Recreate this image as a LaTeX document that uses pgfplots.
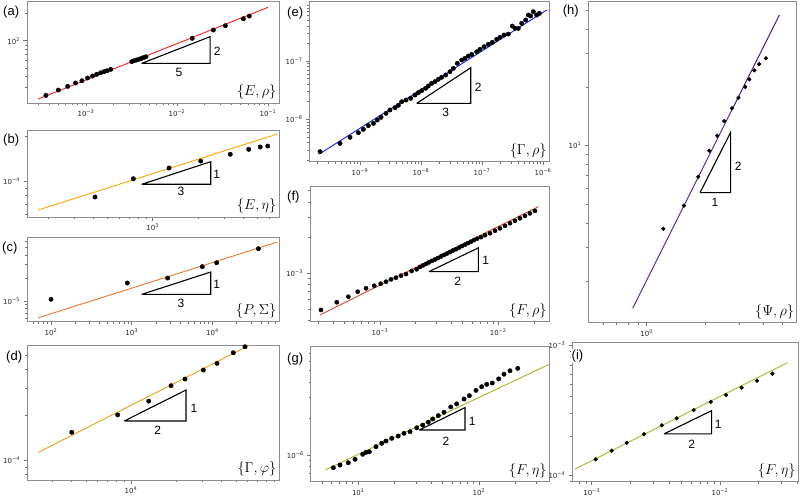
\documentclass[border=0pt]{standalone}
\usepackage[no-math]{fontspec}
\setmainfont{Liberation Sans}
\newfontfamily\dv{DejaVu Sans}
\usepackage{pgfplots}
\pgfplotsset{compat=1.18}
\newcommand{\tl}[1]{10\textsuperscript{#1}}
\definecolor{cA}{HTML}{FF1A1A}
\definecolor{cB}{HTML}{FFA500}
\definecolor{cC}{HTML}{EE7530}
\definecolor{cD}{HTML}{E6A118}
\definecolor{cE}{HTML}{1020E0}
\definecolor{cF}{HTML}{D9472B}
\definecolor{cG}{HTML}{B0B028}
\definecolor{cH}{HTML}{4F1A8F}
\pgfplotsset{
  mypanel/.style={scale only axis, anchor=south west,
    axis line style={draw=black!45, line width=0.8pt},
    tick style={black!55, line width=0.6pt},
    tick align=outside, major tick length=3.5pt, minor tick length=2pt,
    xtick pos=bottom, ytick pos=left,
    tick label style={font=\dv\fontsize{7}{8}\selectfont, text=black!85}},
  mypts/.style={only marks, mark=*, mark size=2.2pt, black},
  myfit/.style={no marks, line width=0.9pt},
  mytri/.style={no marks, black, line width=1.1pt},
}
\tikzset{mylab/.style={anchor=south east, inner sep=0pt, xshift=-2.5pt, yshift=3.5pt, font=\fontsize{15}{18}\selectfont}}
\begin{document}
\begin{tikzpicture}
\path[use as bounding box] (0,0) rectangle (800pt,-496pt);
% (a)
\begin{loglogaxis}[mypanel, at={(27pt,-103pt)}, width=252pt, height=101.5pt,
  xmin=2.249e-4, xmax=0.1321, ymin=20.32, ymax=272.7,
  xtick={1e-3,1e-2,1e-1}, xticklabels={\tl{−3},\tl{−2},\tl{−1}},
  ytick={100}, yticklabels={\tl{2}},
  minor xtick={3e-4,4e-4,5e-4,6e-4,7e-4,8e-4,9e-4,2e-3,3e-3,4e-3,5e-3,6e-3,7e-3,8e-3,9e-3,2e-2,3e-2,4e-2,5e-2,6e-2,7e-2,8e-2,9e-2},
  minor ytick={30,40,50,60,70,80,90,200}]
\addplot[myfit, cA] coordinates {(2.99e-4,22.5) (0.1,235)};
\addplot[mypts] coordinates {(3.63e-4,24.7) (4.97e-4,28.3) (6.29e-4,31.1) (7.69e-4,33.9) (9.03e-4,35.9) (1.04e-3,38.5) (1.18e-3,40.5) (1.31e-3,42.3) (1.45e-3,44.1) (1.58e-3,45.3) (1.71e-3,46.4) (1.87e-3,48.0) (3.18e-3,58.5) (3.37e-3,60.0) (3.60e-3,61.0) (3.86e-3,62.5) (4.09e-3,63.7) (4.34e-3,65.3) (4.56e-3,66.4) (1.47e-2,106.2) (2.51e-2,131.5) (3.40e-2,146.8) (5.36e-2,175.5) (6.24e-2,187.8)};
\addplot[mytri] coordinates {(4.09e-3,56.0) (2.31e-2,56.0) (2.31e-2,110.8) (4.09e-3,56.0)};
\node[mylab] at (rel axis cs:1,0) {$\{E,\rho\}$};
\end{loglogaxis}
% (b)
\begin{loglogaxis}[mypanel, at={(27pt,-217pt)}, width=252pt, height=87pt,
  xmin=145.2, xmax=6950, ymin=5.754e-5, ymax=2.188e-4,
  xtick={1000}, xticklabels={\tl{3}},
  ytick={1e-4}, yticklabels={\tl{−4}},
  minor xtick={200,300,400,500,600,700,800,900,2000,3000,4000,5000,6000},
  minor ytick={6e-5,7e-5,8e-5,9e-5,2e-4}]
\addplot[myfit, cB] coordinates {(172.6,6.41e-5) (6808,2.06e-4)};
\addplot[mypts] coordinates {(412,7.82e-5) (743,1.036e-4) (1285,1.221e-4) (2089,1.359e-4) (3289,1.507e-4) (4365,1.626e-4) (5212,1.686e-4) (5848,1.711e-4)};
\addplot[mytri] coordinates {(845,9.51e-5) (2436,9.51e-5) (2436,1.345e-4) (845,9.51e-5)};
\node[mylab] at (rel axis cs:1,0) {$\{E,\eta\}$};
\end{loglogaxis}
% (c)
\begin{loglogaxis}[mypanel, at={(27pt,-321.5pt)}, width=252pt, height=84pt,
  xmin=50.42, xmax=66890, ymin=5.40e-6, ymax=6.745e-5,
  xtick={100,1000,10000}, xticklabels={\tl{2},\tl{3},\tl{4}},
  ytick={1e-5}, yticklabels={\tl{−5}},
  minor xtick={60,70,80,90,200,300,400,500,600,700,800,900,2000,3000,4000,5000,6000,7000,8000,9000,20000,30000,40000,50000,60000},
  minor ytick={6e-6,7e-6,8e-6,9e-6,2e-5,3e-5,4e-5,5e-5,6e-5}]
\addplot[myfit, cC] coordinates {(69.7,6.05e-6) (63700,5.89e-5)};
\addplot[mypts] coordinates {(100,1.052e-5) (883,1.718e-5) (2790,1.995e-5) (7500,2.81e-5) (11300,3.16e-5) (37100,4.82e-5)};
\addplot[mytri] coordinates {(1330,1.222e-5) (9530,1.222e-5) (9530,2.39e-5) (1330,1.222e-5)};
\node[mylab] at (rel axis cs:1,0) {$\{P,\Sigma\}$};
\end{loglogaxis}
% (d)
\begin{loglogaxis}[mypanel, at={(27pt,-480pt)}, width=252pt, height=135pt,
  xmin=2026, xmax=96980, ymin=7.356e-5, ymax=5.843e-4,
  xtick={10000}, xticklabels={\tl{4}},
  ytick={1e-4}, yticklabels={\tl{−4}},
  minor xtick={3000,4000,5000,6000,7000,8000,9000,20000,30000,40000,50000,60000,70000,80000,90000},
  minor ytick={8e-5,9e-5,2e-4,3e-4,4e-4,5e-4}]
\addplot[myfit, cD] coordinates {(2410,1.125e-4) (97000,7.33e-4)};
\addplot[mypts] coordinates {(4027,1.531e-4) (8150,2.00e-4) (13130,2.47e-4) (18490,3.13e-4) (22910,3.47e-4) (30340,3.98e-4) (37440,4.41e-4) (48080,5.19e-4) (57540,5.69e-4)};
\addplot[mytri] coordinates {(9020,1.82e-4) (23270,1.82e-4) (23270,2.93e-4) (9020,1.82e-4)};
\node[mylab] at (rel axis cs:1,0) {$\{\Gamma,\varphi\}$};
\end{loglogaxis}
% (e)
\begin{loglogaxis}[mypanel, at={(309.5pt,-161.7pt)}, width=239.8pt, height=160pt,
  xmin=1.486e-10, xmax=1.268e-6, ymin=1.875e-9, ymax=1.04e-6,
  xtick={1e-9,1e-8,1e-7,1e-6}, xticklabels={\tl{−9},\tl{−8},\tl{−7},\tl{−6}},
  ytick={1e-8,1e-7}, yticklabels={\tl{−8},\tl{−7}},
  minor xtick={2e-10,3e-10,4e-10,5e-10,6e-10,7e-10,8e-10,9e-10,2e-9,3e-9,4e-9,5e-9,6e-9,7e-9,8e-9,9e-9,2e-8,3e-8,4e-8,5e-8,6e-8,7e-8,8e-8,9e-8,2e-7,3e-7,4e-7,5e-7,6e-7,7e-7,8e-7,9e-7},
  minor ytick={2e-9,3e-9,4e-9,5e-9,6e-9,7e-9,8e-9,9e-9,2e-8,3e-8,4e-8,5e-8,6e-8,7e-8,8e-8,9e-8,2e-7,3e-7,4e-7,5e-7,6e-7,7e-7,8e-7,9e-7}]
\addplot[myfit, cE] coordinates {(2.15e-10,2.54e-9) (1.151e-6,7.50e-7)};
\addplot[mypts] coordinates {(2.21e-10,2.79e-9) (4.70e-10,3.87e-9) (6.86e-10,4.91e-9) (9.39e-10,5.90e-9) (1.135e-9,6.73e-9) (1.37e-9,7.78e-9) (1.66e-9,8.53e-9) (1.92e-9,9.73e-9) (2.21e-9,1.081e-8) (2.67e-9,1.265e-8) (3.10e-9,1.445e-8) (3.75e-9,1.585e-8) (4.25e-9,1.738e-8) (4.82e-9,2.00e-8) (5.68e-9,2.14e-8) (6.78e-9,2.29e-8) (7.98e-9,2.61e-8) (9.04e-9,2.86e-8) (1.026e-8,3.10e-8) (1.194e-8,3.40e-8) (1.318e-8,3.72e-8) (1.496e-8,4.14e-8) (1.70e-8,4.43e-8) (1.92e-8,4.85e-8) (2.18e-8,5.25e-8) (2.54e-8,5.75e-8) (2.99e-8,6.56e-8) (3.39e-8,7.48e-8) (3.94e-8,9.12e-8) (4.65e-8,1.04e-7) (5.26e-8,1.11e-7) (5.97e-8,1.22e-7) (6.78e-8,1.30e-7) (8.18e-8,1.445e-7) (9.27e-8,1.585e-7) (1.079e-7,1.76e-7) (1.27e-7,1.93e-7) (1.476e-7,2.09e-7) (1.74e-7,2.35e-7) (1.97e-7,2.55e-7) (2.30e-7,2.79e-7) (2.70e-7,2.90e-7) (3.14e-7,3.98e-7) (3.48e-7,3.63e-7) (3.94e-7,3.63e-7) (4.48e-7,4.43e-7) (5.20e-7,5.05e-7) (5.75e-7,6.15e-7) (6.28e-7,5.92e-7) (6.95e-7,7.02e-7) (7.87e-7,6.15e-7) (8.71e-7,6.56e-7)};
\addplot[mytri] coordinates {(8.51e-9,1.88e-8) (6.53e-8,1.88e-8) (6.53e-8,7.67e-8) (8.51e-9,1.88e-8)};
\node[mylab] at (rel axis cs:1,0) {$\{\Gamma,\rho\}$};
\end{loglogaxis}
% (f)
\begin{loglogaxis}[mypanel, at={(310pt,-321.7pt)}, width=239.3pt, height=135pt,
  xmin=2.561e-4, xmax=2.699e-2, ymin=3.898e-4, ymax=5.395e-3,
  xtick={1e-3,1e-2}, xticklabels={\tl{−3},\tl{−2}},
  ytick={1e-3}, yticklabels={\tl{−3}},
  minor xtick={3e-4,4e-4,5e-4,6e-4,7e-4,8e-4,9e-4,2e-3,3e-3,4e-3,5e-3,6e-3,7e-3,8e-3,9e-3,2e-2},
  minor ytick={4e-4,5e-4,6e-4,7e-4,8e-4,9e-4,2e-3,3e-3,4e-3,5e-3}]
\addplot[myfit, cF] coordinates {(3.11e-4,4.45e-4) (2.18e-2,3.66e-3)};
\addplot[mypts, mark size=2.1pt] coordinates {(3.17e-4,4.90e-4) (4.31e-4,5.69e-4) (5.40e-4,6.34e-4) (6.48e-4,6.99e-4) (7.62e-4,7.47e-4) (8.95e-4,7.85e-4) (1.014e-3,8.17e-4) (1.125e-3,8.49e-4) (1.239e-3,8.89e-4) (1.365e-3,9.18e-4) (1.507e-3,9.55e-4) (1.66e-3,9.86e-4) (1.85e-3,1.045e-3) (2.04e-3,1.081e-3) (2.18e-3,1.132e-3) (2.31e-3,1.167e-3) (2.45e-3,1.200e-3) (2.59e-3,1.236e-3) (2.75e-3,1.273e-3) (2.92e-3,1.309e-3) (3.09e-3,1.346e-3) (3.28e-3,1.387e-3) (3.48e-3,1.429e-3) (3.68e-3,1.469e-3) (3.91e-3,1.514e-3) (4.14e-3,1.560e-3) (4.39e-3,1.60e-3) (4.66e-3,1.65e-3) (4.93e-3,1.70e-3) (5.24e-3,1.75e-3) (5.55e-3,1.80e-3) (5.88e-3,1.85e-3) (6.23e-3,1.91e-3) (6.61e-3,1.96e-3) (7.14e-3,2.02e-3) (7.73e-3,2.10e-3) (8.51e-3,2.18e-3) (9.38e-3,2.29e-3) (1.033e-2,2.40e-3) (1.140e-2,2.52e-3) (1.256e-2,2.65e-3) (1.384e-2,2.78e-3) (1.524e-2,2.92e-3) (1.68e-2,3.06e-3) (1.85e-2,3.21e-3) (2.04e-2,3.37e-3)};
\addplot[mytri] coordinates {(2.59e-3,1.032e-3) (6.78e-3,1.032e-3) (6.78e-3,1.64e-3) (2.59e-3,1.032e-3)};
\node[mylab] at (rel axis cs:1,0) {$\{F,\rho\}$};
\end{loglogaxis}
% (g)
\begin{loglogaxis}[mypanel, at={(310.7pt,-481.7pt)}, width=238.6pt, height=135pt,
  xmin=4.033, xmax=382.3, ymin=6.008e-7, ymax=7.89e-6,
  xtick={10,100}, xticklabels={\tl{1},\tl{2}},
  ytick={1e-6}, yticklabels={\tl{−6}},
  minor xtick={5,6,7,8,9,20,30,40,50,60,70,80,90,200,300},
  minor ytick={7e-7,8e-7,9e-7,2e-6,3e-6,4e-6,5e-6,6e-6,7e-6}]
\addplot[myfit, cG] coordinates {(5.30,7.51e-7) (382,5.64e-6)};
\addplot[mypts] coordinates {(6.21,7.85e-7) (7.05,8.26e-7) (8.26,8.63e-7) (9.40,9.21e-7) (10.87,1.014e-6) (11.58,1.052e-6) (12.34,1.064e-6) (14.02,1.172e-6) (15.63,1.250e-6) (16.94,1.306e-6) (18.92,1.375e-6) (21.4,1.436e-6) (23.9,1.512e-6) (26.8,1.56e-6) (30.5,1.68e-6) (34.2,1.77e-6) (38.0,1.87e-6) (41.3,1.99e-6) (46.0,2.12e-6) (51.3,2.26e-6) (58.3,2.50e-6) (65.3,2.65e-6) (75.2,2.91e-6) (83.2,3.10e-6) (94.4,3.43e-6) (105.2,3.68e-6) (115.8,3.85e-6) (128.8,3.95e-6) (145.5,4.27e-6) (161.1,4.67e-6) (180.7,4.99e-6) (209.4,5.22e-6)};
\addplot[mytri] coordinates {(32.0,1.61e-6) (76.6,1.61e-6) (76.6,2.47e-6) (32.0,1.61e-6)};
\node[mylab] at (rel axis cs:1,0) {$\{F,\eta\}$};
\end{loglogaxis}
% (h)
\begin{loglogaxis}[mypanel, at={(588.3pt,-322.7pt)}, width=208.4pt, height=321pt,
  xmin=0.5, xmax=5.933, ymin=1.2237, ymax=55.25,
  xtick={1}, xticklabels={\tl{0}},
  ytick={10}, yticklabels={\tl{1}},
  minor xtick={0.6,0.7,0.8,0.9,2,3,4,5},
  minor ytick={2,3,4,5,6,7,8,9,20,30,40,50}]
\addplot[myfit, cH] coordinates {(0.847,1.452) (4.83,47.2)};
\addplot[mypts, mark size=1.9pt] coordinates {(1.218,3.73) (1.556,4.91) (1.845,6.92) (2.10,9.42) (2.31,11.26) (2.51,13.40) (2.75,15.59) (2.97,17.66) (3.22,20.1) (3.38,21.98) (3.59,24.47) (3.80,26.37) (4.12,28.22)};
\addplot[mytri] coordinates {(1.883,5.73) (2.71,5.73) (2.71,11.73) (1.883,5.73)};
\node[mylab] at (rel axis cs:1,0) {$\{\Psi,\rho\}$};
\end{loglogaxis}
% (i)
\begin{loglogaxis}[mypanel, at={(572.3pt,-481.7pt)}, width=226pt, height=139.4pt,
  xmin=7.06e-4, xmax=4.076e-2, ymin=8.88e-5, ymax=1.049e-3,
  xtick={1e-3,1e-2}, xticklabels={\tl{−3},\tl{−2}},
  ytick={1e-4,1e-3}, yticklabels={\tl{−4},\tl{−3}},
  minor xtick={8e-4,9e-4,2e-3,3e-3,4e-3,5e-3,6e-3,7e-3,8e-3,9e-3,2e-2,3e-2,4e-2},
  minor ytick={9e-5,2e-4,3e-4,4e-4,5e-4,6e-4,7e-4,8e-4,9e-4}]
\addplot[myfit, cG] coordinates {(7.41e-4,1.112e-4) (3.35e-2,7.31e-4)};
\addplot[mypts, mark size=1.9pt] coordinates {(1.074e-3,1.321e-4) (1.432e-3,1.538e-4) (1.875e-3,1.771e-4) (2.56e-3,2.06e-4) (3.52e-3,2.41e-4) (4.60e-3,2.73e-4) (6.24e-3,3.16e-4) (8.47e-3,3.65e-4) (1.114e-2,4.12e-4) (1.476e-2,4.70e-4) (1.941e-2,5.31e-4) (2.56e-2,6.01e-4)};
\addplot[mytri] coordinates {(3.66e-3,2.07e-4) (8.61e-3,2.07e-4) (8.61e-3,3.13e-4) (3.66e-3,2.07e-4)};
\node[mylab] at (rel axis cs:1,0) {$\{F,\eta\}$};
\end{loglogaxis}
% panel letters
\begin{scope}[every node/.style={anchor=west, inner sep=0pt, font=\fontsize{13}{15}\selectfont}]
\node at (3pt,-12.5pt) {(a)};
\node at (3pt,-140pt) {(b)};
\node at (2pt,-248.5pt) {(c)};
\node at (6pt,-357.5pt) {(d)};
\node at (287pt,-13.5pt) {(e)};
\node at (287pt,-197.5pt) {(f)};
\node at (287pt,-359pt) {(g)};
\node at (562.7pt,-11.3pt) {(h)};
\node[fill=white, inner sep=0.5pt] at (571pt,-356pt) {(i)};
\end{scope}
% triangle numbers
\begin{scope}[every node/.style={inner sep=0pt, font=\fontsize{12}{14}\selectfont}]
\node at (217.3pt,-51.7pt) {2};
\node at (179pt,-72.3pt) {5};
\node at (216.7pt,-174.3pt) {1};
\node at (181pt,-191.7pt) {3};
\node at (216.7pt,-284.7pt) {1};
\node at (181pt,-303pt) {3};
\node at (194pt,-408.3pt) {1};
\node at (157.7pt,-430.7pt) {2};
\node at (478.3pt,-87.3pt) {2};
\node at (445.7pt,-112.7pt) {3};
\node at (485.7pt,-260pt) {1};
\node at (457.7pt,-281.7pt) {2};
\node at (472.3pt,-421pt) {1};
\node at (446pt,-441pt) {2};
\node at (738.3pt,-166.7pt) {2};
\node at (715pt,-202.3pt) {1};
\node at (718.3pt,-424.3pt) {1};
\node at (691.7pt,-444pt) {2};
\end{scope}
\end{tikzpicture}
\end{document}
